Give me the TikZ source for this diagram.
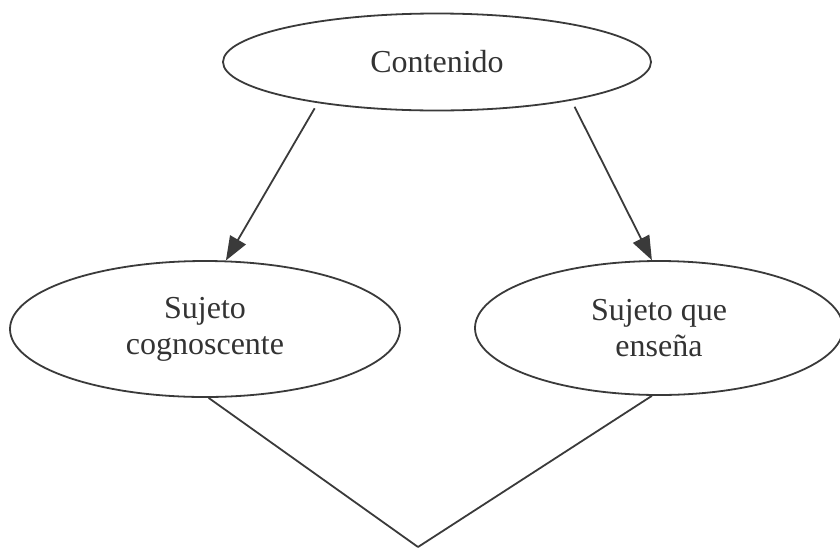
\documentclass[tikz,border=0pt]{standalone}
\usepackage{fontspec}
\setmainfont{Liberation Serif}
\usetikzlibrary{shapes.geometric,arrows.meta}
\definecolor{ink}{HTML}{3A3A3A}
\definecolor{txt}{HTML}{333333}
\tikzset{
  oval/.style={ellipse, draw=ink, line width=1.8pt, inner sep=0pt, align=center,
    text=txt, font=\fontsize{32}{36}\selectfont},
  arr/.style={draw=ink, line width=1.8pt, -{Triangle[length=24pt,width=18pt]}},
  lnk/.style={draw=ink, line width=1.8pt}
}
\begin{document}
\begin{tikzpicture}[x=1pt,y=-1pt]
\useasboundingbox (0,0) rectangle (840,547);
\node[oval, minimum width=428pt, minimum height=97pt] (top) at (437,62) {Contenido};
\node[oval, minimum width=390pt, minimum height=136pt] (left) at (205,329) {Sujeto\\cognoscente};
\node[oval, minimum width=368pt, minimum height=134pt] (right) at (659,328) {Sujeto que\\enseña};
\coordinate (v) at (418,547);
\draw[arr, shorten <=6pt] (top.199) -- (left.73);
\draw[arr, shorten <=7pt] (top.344) -- (right.96);
\draw[lnk] (left.273) -- (v);
\draw[lnk] (right.264) -- (v);
\end{tikzpicture}
\end{document}
